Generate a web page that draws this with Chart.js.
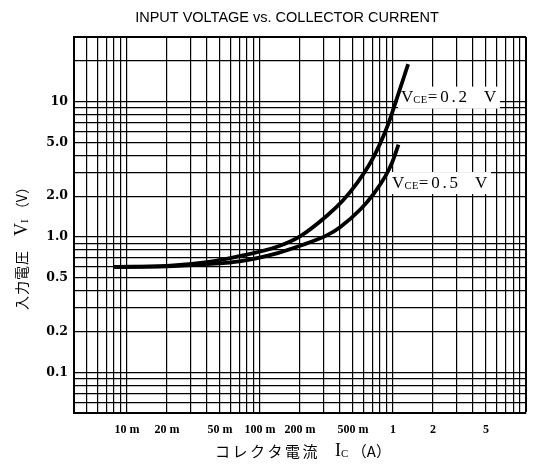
<!DOCTYPE html>
<html>
<head>
<meta charset="utf-8">
<script src="https://cdn.jsdelivr.net/npm/chart.js@4.4.0/dist/chart.umd.min.js"></script>
<style>
  body { margin: 0; background: #fff; }
  #wrap { width: 536px; height: 473px; }
</style>
</head>
<body>
<div id="wrap"><canvas id="canvas_vi" width="536" height="473"></canvas></div>
<script>
const chartTitle = 'INPUT VOLTAGE vs. COLLECTOR CURRENT';

// collector current (A) and input voltage (V)
const icVce02 = [0.008, 0.02, 0.04, 0.07, 0.136, 0.2, 0.32, 0.42, 0.54, 0.68, 0.8, 0.93, 1.04, 1.3];
const viVce02 = [0.6, 0.61, 0.65, 0.72, 0.85, 1.01, 1.44, 1.86, 2.52, 3.56, 4.89, 7.0, 9.7, 18.9];
const icVce05 = [0.008, 0.02, 0.04, 0.07, 0.136, 0.2, 0.32, 0.4, 0.57, 0.72, 0.875, 0.98, 1.1];
const viVce05 = [0.6, 0.605, 0.63, 0.66, 0.76, 0.86, 1.03, 1.18, 1.6, 2.1, 2.8, 3.5, 4.8];

const xTickValues = [0.01, 0.02, 0.05, 0.1, 0.2, 0.5, 1, 2, 5];
const xTickLabels = ['10 m', '20 m', '50 m', '100 m', '200 m', '500 m', '1', '2', '5'];
const yTickValues = [0.1, 0.2, 0.5, 1, 2, 5, 10];
const yTickLabels = ['0.1', '0.2', '0.5', '1.0', '2.0', '5.0', '10'];

const curveNames = ['0.2', '0.5'];
const curveLabelX = [1.15, 0.985];
const curveLabelY = [10.7, 2.5];

const xMin = 0.004, xMax = 10;
const yMin = 0.05, yMax = 30;

// every 1..9 line of each decade, like log paper
function logGrid(min, max) {
  const out = [];
  for (let e = -3; e <= 1; e++) {
    for (let m = 1; m <= 9; m++) {
      const v = Number((m * Math.pow(10, e)).toPrecision(3));
      if (v >= min * 0.999 && v <= max * 1.001) out.push(v);
    }
  }
  return out;
}

function labelFor(values, labels, v) {
  const i = values.findIndex(t => Math.abs(t - v) / t < 1e-6);
  return i < 0 ? '' : labels[i];
}

function partsWidth(ctx, parts) {
  let total = 0;
  for (const p of parts) {
    ctx.font = p.font;
    ctx.letterSpacing = p.sp || '0px';
    p.w = ctx.measureText(p.text).width;
    total += p.w;
  }
  ctx.letterSpacing = '0px';
  return total;
}

function drawParts(ctx, parts, x, y) {
  let cx = x;
  for (const p of parts) {
    ctx.font = p.font;
    ctx.letterSpacing = p.sp || '0px';
    ctx.fillText(p.text, cx, y + (p.dy || 0));
    cx += p.w;
  }
  ctx.letterSpacing = '0px';
}

const textPlugin = {
  id: 'textPlugin',
  beforeDatasetsDraw(chart) {
    const ctx = chart.ctx;
    const sx = chart.scales.x, sy = chart.scales.y;
    ctx.save();
    ctx.textBaseline = 'middle';
    ctx.textAlign = 'left';
    for (let i = 0; i < curveNames.length; i++) {
      const parts = [
        { text: 'V', font: '17px "Liberation Serif"' },
        { text: 'CE', font: '10.5px "Liberation Serif"', dy: 3, sp: '0.5px' },
        { text: '=' + curveNames[i] + '  V', font: '17px "Liberation Serif"', sp: '2.8px' }
      ];
      const px = sx.getPixelForValue(curveLabelX[i]);
      const py = sy.getPixelForValue(curveLabelY[i]);
      const w = partsWidth(ctx, parts);
      ctx.fillStyle = '#fff';
      ctx.fillRect(px - 3, py - 11, w + 4, 22);
      ctx.fillStyle = '#000';
      drawParts(ctx, parts, px, py);
    }
    ctx.restore();
  },
  afterDraw(chart) {
    const ctx = chart.ctx;
    const area = chart.chartArea;
    const midX = (area.left + area.right) / 2;
    ctx.save();
    ctx.fillStyle = '#000';
    ctx.textBaseline = 'middle';
    ctx.textAlign = 'center';
    ctx.font = '14.5px "Liberation Sans"';
    ctx.fillText(chartTitle, midX - 13, 18);

    ctx.textAlign = 'left';
    // x axis title
    const xParts = [
      { text: 'コレクタ電流', font: '15px "Noto Sans CJK JP"', sp: '2.5px' },
      { text: '　', font: '15px "Noto Sans CJK JP"' },
      { text: 'I', font: '18px "Liberation Serif"' },
      { text: 'C', font: '11px "Liberation Serif"', dy: 3 },
      { text: ' （A）', font: '15px "Noto Sans CJK JP"' }
    ];
    const xw = partsWidth(ctx, xParts);
    drawParts(ctx, xParts, midX + 3 - xw / 2, area.bottom + 38);

    // y axis title, rotated
    const yParts = [
      { text: '入力電圧', font: '14px "Noto Sans CJK JP"', sp: '1px' },
      { text: '　', font: '14px "Noto Sans CJK JP"' },
      { text: 'V', font: '18px "Liberation Serif"' },
      { text: 'I', font: '11px "Liberation Serif"', dy: 3 },
      { text: ' （V）', font: '14px "Noto Sans CJK JP"' }
    ];
    const yw = partsWidth(ctx, yParts);
    ctx.translate(22, (area.top + area.bottom) / 2 + 20);
    ctx.rotate(-Math.PI / 2);
    drawParts(ctx, yParts, -yw / 2, 0);
    ctx.restore();
  }
};

const gridWidth = (edge) => (c) => (c.tick && Math.abs(c.tick.value - edge) / edge < 1e-6) ? 2 : 1.2;

const chartVi = new Chart(document.getElementById('canvas_vi'), {
  type: 'line',
  data: {
    datasets: [
      {
        label: 'VCE=0.2 V',
        data: icVce02.map((x, i) => ({ x: x, y: viVce02[i] })),
        borderColor: '#000',
        borderWidth: 3.8,
        pointRadius: 0,
        cubicInterpolationMode: 'monotone'
      },
      {
        label: 'VCE=0.5 V',
        data: icVce05.map((x, i) => ({ x: x, y: viVce05[i] })),
        borderColor: '#000',
        borderWidth: 3.8,
        pointRadius: 0,
        cubicInterpolationMode: 'monotone'
      }
    ]
  },
  options: {
    responsive: false,
    animation: false,
    devicePixelRatio: 1,
    layout: { padding: { left: 0, right: 6, top: 37, bottom: 0 } },
    plugins: {
      legend: { display: false },
      tooltip: { enabled: false },
      title: { display: false }
    },
    scales: {
      x: {
        type: 'logarithmic',
        min: xMin,
        max: xMax,
        afterBuildTicks: (axis) => { axis.ticks = logGrid(xMin, xMax).map(v => ({ value: v })); },
        afterFit: (axis) => { axis.height = 60; },
        grid: { color: '#000', lineWidth: gridWidth(xMax), drawTicks: false },
        border: { display: true, color: '#000', width: 2 },
        ticks: {
          autoSkip: false,
          maxRotation: 0,
          minRotation: 0,
          padding: 10,
          color: '#000',
          font: { family: '"Liberation Serif"', size: 12, weight: 'bold' },
          callback: (v) => labelFor(xTickValues, xTickLabels, v)
        }
      },
      y: {
        type: 'logarithmic',
        min: yMin,
        max: yMax,
        afterBuildTicks: (axis) => { axis.ticks = logGrid(yMin, yMax).map(v => ({ value: v })); },
        afterFit: (axis) => { axis.width = 74; },
        grid: { color: '#000', lineWidth: gridWidth(yMax), drawTicks: false },
        border: { display: true, color: '#000', width: 2 },
        ticks: {
          autoSkip: false,
          padding: 6,
          color: '#000',
          font: { family: '"DejaVu Serif"', size: 12.5, weight: 'bold' },
          callback: (v) => labelFor(yTickValues, yTickLabels, v)
        }
      }
    }
  },
  plugins: [textPlugin]
});
</script>
</body>
</html>
